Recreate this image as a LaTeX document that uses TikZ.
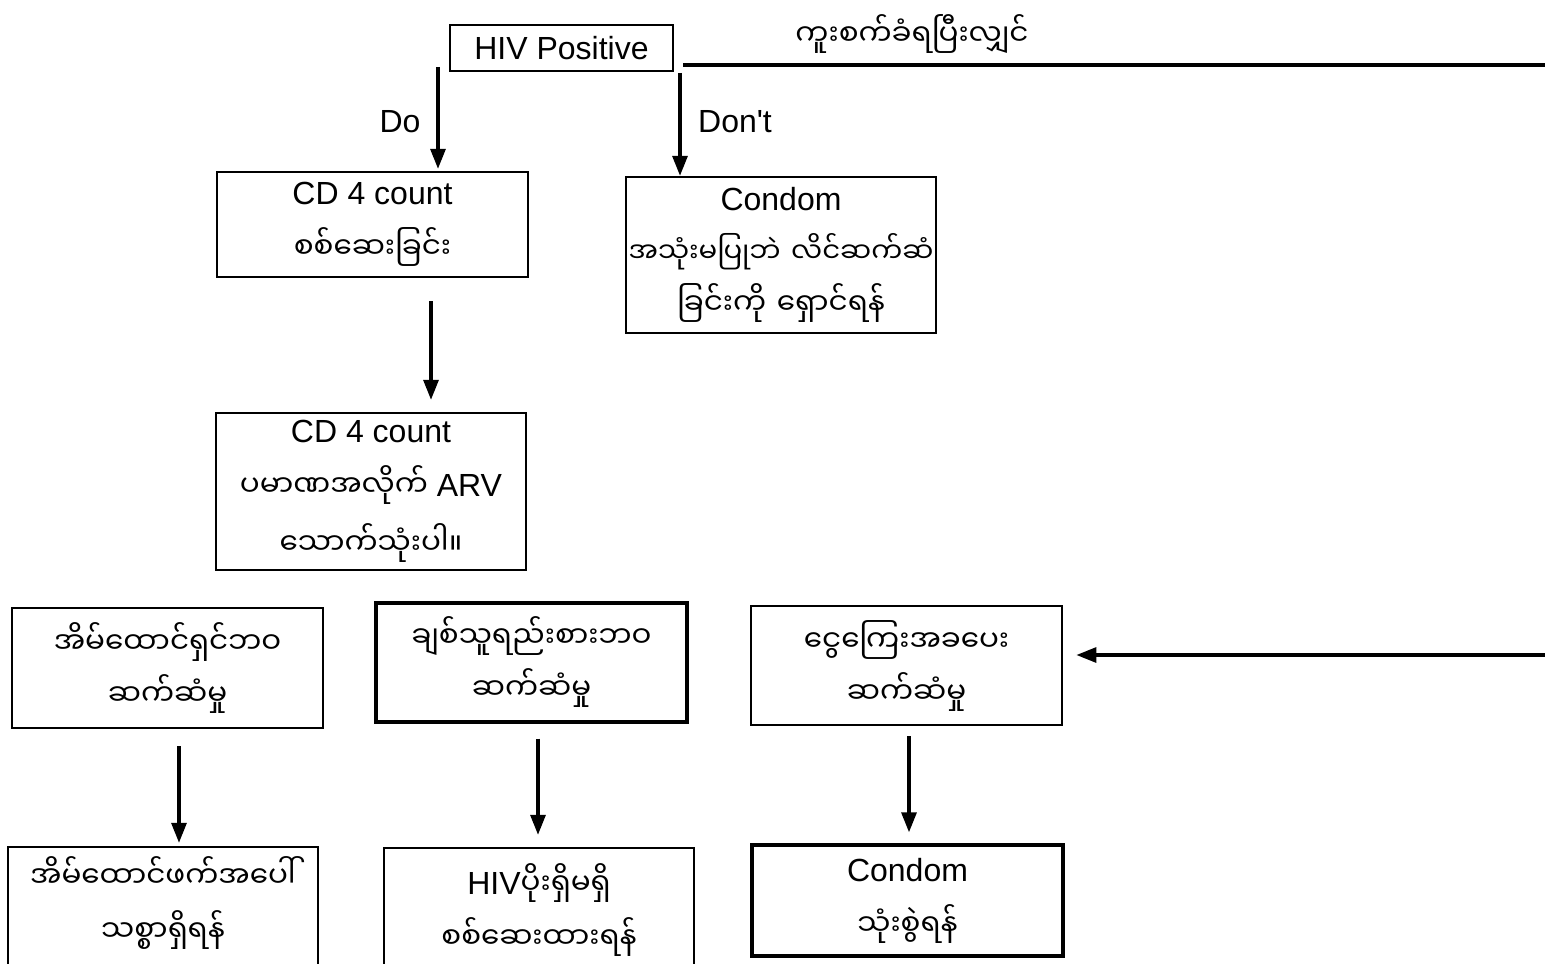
\documentclass[tikz,border=0pt]{standalone}
\usepackage{fontspec}
\setmainfont{Liberation Sans}
\newfontfamily\my[Script=Myanmar,Scale=0.92]{Noto Sans Myanmar UI}
\usetikzlibrary{arrows.meta}
\begin{document}
\begin{tikzpicture}[x=0.5pt,y=-0.5pt,
  box/.style={draw, line width=1.2pt, inner sep=0pt, align=center, font=\fontsize{16}{26}\selectfont},
  thick box/.style={box, line width=1.7pt},
  txt/.style={inner sep=0pt, align=center, font=\fontsize{16}{26}\selectfont},
  arr/.style={-{Triangle[length=10pt,width=7.5pt]}, line width=1.6pt},
  ln/.style={line width=1.7pt}]
\useasboundingbox (0,0) rectangle (1545,963);
\clip (0,0) rectangle (1545,963);

% boxes
\node[box, minimum width=111.5pt, minimum height=23pt] (hiv) at (561.5,48) {HIV Positive};
\node[box, minimum width=155.5pt, minimum height=52.5pt] (cd1) at (372.5,224.5)
  {CD 4 count\\[1pt]{\my စစ်ဆေးခြင်း}};
\node[box, text width=155pt, minimum height=78pt] (cond1) at (781,255)
  {Condom\\{\my\fontsize{15}{26}\selectfont အသုံးမပြုဘဲ လိင်ဆက်ဆံ}\\{\my ခြင်းကို ရှောင်ရန်}};
\node[box, minimum width=155pt, minimum height=78.5pt] (cd2) at (371,491.5)
  {CD 4 count\\[1pt]{\my ပမာဏအလိုက်} ARV\\[3pt]{\my သောက်သုံးပါ။}};
\node[box, minimum width=155.5pt, minimum height=60pt] (b5) at (167.5,668)
  {{\my အိမ်ထောင်ရှင်ဘဝ}\\{\my ဆက်ဆံမှု}};
\node[thick box, minimum width=155.5pt, minimum height=59.5pt] (b6) at (531.5,662.5)
  {{\my ချစ်သူရည်းစားဘဝ}\\{\my ဆက်ဆံမှု}};
\node[box, line width=1.4pt, minimum width=155.5pt, minimum height=59.5pt] (b7) at (906.5,665.5)
  {{\my ငွေကြေးအခပေး}\\{\my ဆက်ဆံမှု}};
\node[box, minimum width=155pt, minimum height=76.5pt] (b8) at (163,923.5) {};
\node[txt] (b8t) at (163,903) {{\my အိမ်ထောင်ဖက်အပေါ်}\\[1pt]{\my သစ္စာရှိရန်}};
\node[box, minimum width=155pt, minimum height=76.5pt] (b9) at (539,924.5) {};
\node[txt] (b9t) at (539,910) {HIV{\my ပိုးရှိမရှိ}\\[1pt]{\my စစ်ဆေးထားရန်}};
\node[thick box, minimum width=155.5pt, minimum height=55.5pt] (b10) at (907.5,900.5)
  {Condom\\[1pt]{\my သုံးစွဲရန်}};

% labels
\node[txt] (top) at (912,34) {\my ကူးစက်ခံရပြီးလျှင်};
\node[txt] (do) at (400,122) {Do};
\node[txt] (dont) at (735,122) {Don\textquotesingle t};

% connector ends
\coordinate (doS) at (438,67);
\coordinate (dontS) at (680,73);
\coordinate (lineS) at (683,65);
\coordinate (lineE) at (1545,65);
\coordinate (rightS) at (1545,655);
\coordinate (x1) at (431,0);
\coordinate (x5) at (179,0);
\coordinate (x6) at (538,0);
\coordinate (x7) at (909,0);

% connectors
\draw[arr, shorten >=1pt] (doS) -- (cd1.north -| doS);
\draw[arr] (dontS) -- (cond1.north -| dontS);
\draw[ln] (lineS) -- (lineE);
\draw[arr, shorten <=11.5pt, shorten >=6pt] (cd1.south -| x1) -- (cd2.north -| x1);
\draw[arr, shorten <=8.5pt, shorten >=1.5pt] (b5.south -| x5) -- (b8.north -| x5);
\draw[arr, shorten <=7.5pt, shorten >=6pt] (b6.south -| x6) -- (b9.north -| x6);
\draw[arr, shorten <=5pt, shorten >=5.5pt] (b7.south -| x7) -- (b10.north -| x7);
\draw[arr, shorten >=6.5pt] (rightS) -- (b7.east |- rightS);
\end{tikzpicture}
\end{document}
